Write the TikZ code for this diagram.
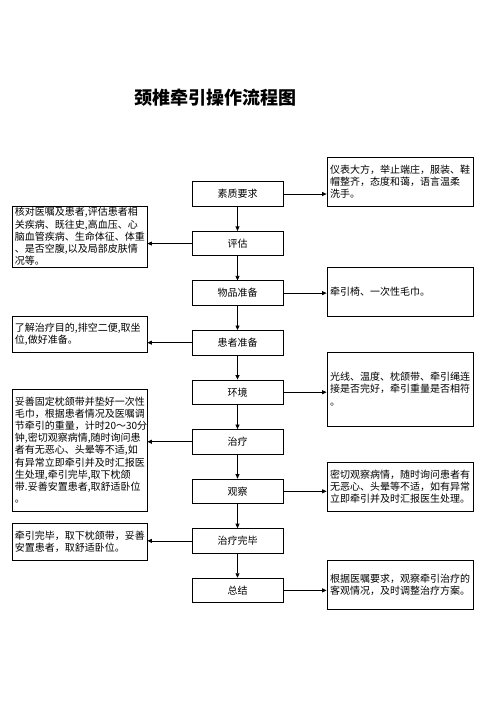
\documentclass[tikz,border=0pt]{standalone}
\usepackage{fontspec}
\newfontfamily\cjk{Noto Sans CJK SC}
\usepackage{tikz}
\usetikzlibrary{positioning,arrows.meta}
\tikzset{
  stepbox/.style={draw=black,line width=0.8pt,minimum width=91pt,minimum height=24.5pt,inner sep=0pt,font=\cjk\fontsize{10}{12}\selectfont},
  notebox/.style={draw=black,line width=0.8pt,align=left,inner xsep=3pt,inner ysep=0pt,font=\cjk\fontsize{10}{12.2}\selectfont},
  rnote/.style={notebox,text width=140pt},
  lnote/.style={notebox,text width=129pt},
  flowarrow/.style={-{Triangle[length=4.5pt,width=4pt]},draw=black,line width=0.7pt}
}

\begin{document}
\begin{tikzpicture}[x=1pt,y=-1pt,node distance=24.25pt]
  \useasboundingbox (0,0) rectangle (496,702);
  \node[font=\cjk\bfseries\fontsize{18}{20}\selectfont] (title) at (215,98) {颈椎牵引操作流程图};
  % main steps
  \node[stepbox] (suzhi) at (237.5,194) {素质要求};
  \node[stepbox,below=of suzhi] (pinggu) {评估};
  \node[stepbox,below=of pinggu] (wupin) {物品准备};
  \node[stepbox,below=of wupin] (huanzhe) {患者准备};
  \node[stepbox,below=of huanzhe] (huanjing) {环境};
  \node[stepbox,below=of huanjing] (zhiliao) {治疗};
  \node[stepbox,below=of zhiliao] (guancha) {观察};
  \node[stepbox,below=of guancha] (wanbi) {治疗完毕};
  \node[stepbox,below=of wanbi] (zongjie) {总结};
  % notes on the right
  \node[rnote,minimum height=49pt] (suzhinote) at (400,181.5) {仪表大方，举止端庄，服装、鞋\\帽整齐，态度和蔼，语言温柔\\洗手。};
  \node[rnote,minimum height=49pt] (wupinnote) at (400,291.5) {牵引椅、一次性毛巾。};
  \node[rnote,minimum height=74pt] (huanjingnote) at (400,389) {光线、温度、枕颌带、牵引绳连\\接是否完好，牵引重量是否相符\\。};
  \node[rnote,minimum height=49pt] (guanchanote) at (400,486.5) {密切观察病情，随时询问患者有\\无恶心、头晕等不适，如有异常\\立即牵引并及时汇报医生处理。};
  \node[rnote,minimum height=49pt] (zongjienote) at (400,584.5) {根据医嘱要求，观察牵引治疗的\\客观情况，及时调整治疗方案。};
  % notes on the left
  \node[lnote,minimum height=61pt] (pinggunote) at (79.5,236.5) {核对医嘱及患者,评估患者相\\关疾病、既往史,高血压、心\\脑血管疾病、生命体征、体重\\、是否空腹,以及局部皮肤情\\况等。};
  \node[lnote,minimum height=36pt] (huanzhenote) at (79.5,334) {了解治疗目的,排空二便,取坐\\位,做好准备。};
  \node[lnote,minimum height=122pt] (zhiliaonote) at (79.5,450) {妥善固定枕颌带并垫好一次性\\毛巾，根据患者情况及医嘱调\\节牵引的重量，计时20～30分\\钟,密切观察病情,随时询问患\\者有无恶心、头晕等不适,如\\有异常立即牵引并及时汇报医\\生处理,牵引完毕,取下枕颌\\带.妥善安置患者,取舒适卧位\\。};
  \node[lnote,minimum height=37pt] (wanbinote) at (79.5,541.5) {牵引完毕，取下枕颌带，妥善\\安置患者，取舒适卧位。};
  % flow
  \draw[flowarrow] (suzhi) -- (pinggu);
  \draw[flowarrow] (pinggu) -- (wupin);
  \draw[flowarrow] (wupin) -- (huanzhe);
  \draw[flowarrow] (huanzhe) -- (huanjing);
  \draw[flowarrow] (huanjing) -- (zhiliao);
  \draw[flowarrow] (zhiliao) -- (guancha);
  \draw[flowarrow] (guancha) -- (wanbi);
  \draw[flowarrow] (wanbi) -- (zongjie);
  \draw[flowarrow] (suzhi.east) -- (suzhi.east -| suzhinote.west);
  \draw[flowarrow] (wupin.east) -- (wupin.east -| wupinnote.west);
  \draw[flowarrow] (huanjing.east) -- (huanjing.east -| huanjingnote.west);
  \draw[flowarrow] (guancha.east) -- (guancha.east -| guanchanote.west);
  \draw[flowarrow] (zongjie.east) -- (zongjie.east -| zongjienote.west);
  \draw[flowarrow] (pinggu.west) -- (pinggu.west -| pinggunote.east);
  \draw[flowarrow] (huanzhe.west) -- (huanzhe.west -| huanzhenote.east);
  \draw[flowarrow] (zhiliao.west) -- (zhiliao.west -| zhiliaonote.east);
  \draw[flowarrow] (wanbi.west) -- (wanbi.west -| wanbinote.east);
\end{tikzpicture}
\end{document}
